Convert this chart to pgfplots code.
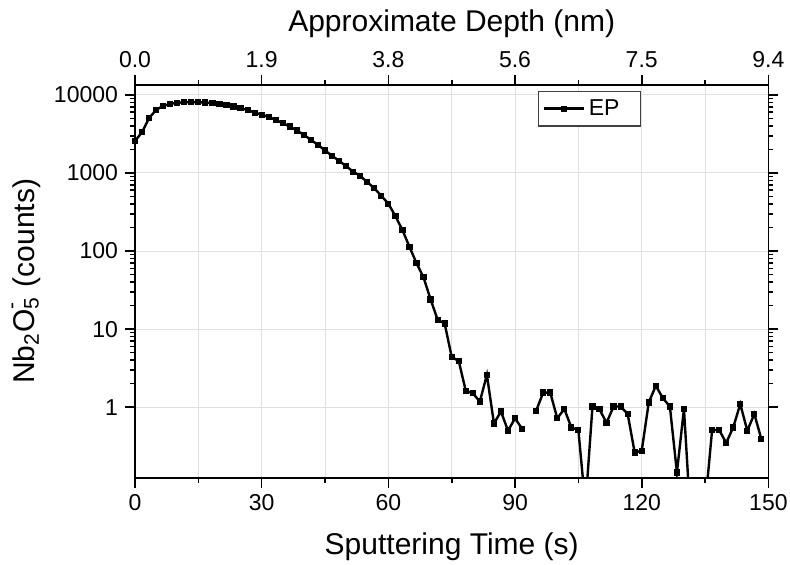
\documentclass[border=0pt]{standalone}
\usepackage{pgfplots}
\pgfplotsset{compat=1.18}
\usepackage{fontspec}
\setmainfont{Liberation Sans}
\pgfplotstableread{
t y
0 2570
1.667 3330
3.333 5030
5 6430
6.667 7230
8.333 7670
10 7900
11.667 8060
13.333 8060
15 8060
16.667 7980
18.333 7800
20 7670
21.667 7380
23.333 7090
25 6760
26.667 6430
28.333 5930
30 5590
31.667 5220
33.333 4790
35 4340
36.667 3930
38.333 3490
40 3080
41.667 2650
43.333 2290
45 1940
46.667 1660
48.333 1430
50 1220
51.667 1040
53.333 918
55 762
56.667 639
58.333 509
60 405
61.667 280
63.333 186
65 113
66.667 70
68.333 46
70 24
71.667 13.2
73.333 11.8
75 4.4
76.667 3.9
78.333 1.62
80 1.51
81.667 1.18
83.333 2.6
85 0.62
86.667 0.88
88.333 0.50
90 0.72
91.667 0.53
93.333 nan
95 0.90
96.667 1.54
98.333 1.54
100 0.72
101.667 0.95
103.333 0.55
105 0.51
106.667 0.054
108.333 1.02
110 0.94
111.667 0.63
113.333 1.02
115 1.02
116.667 0.82
118.333 0.263
120 0.277
121.667 1.15
123.333 1.88
125 1.31
126.667 1.02
128.333 0.146
130 0.95
131.667 0.03
133.333 0.02
135 0.054
136.667 0.51
138.333 0.51
140 0.35
141.667 0.55
143.333 1.1
145 0.50
146.667 0.82
148.333 0.39
}\datatable
\begin{document}
\begin{tikzpicture}
\path[use as bounding box] (-67.5pt,-43.15pt) rectangle (327.5pt,238.85pt);
\begin{axis}[
 scale only axis, width=316.7pt, height=196.5pt,
 xmin=0, xmax=150, ymode=log, ymin=0.125, ymax=13500,
 xtick={0,30,...,150}, xticklabels={0,30,60,90,120,150},
 minor x tick num=1,
 ytick={1,10,100,1000,10000}, yticklabels={1,10,100,1000,10000},
 xtick pos=bottom, ytick pos=both,
 tick align=outside,
 major tick length=5pt, minor tick length=2.5pt,
 xmajorgrids, xminorgrids, ymajorgrids,
 major grid style={black!12, line width=0.5pt},
 minor grid style={black!12, line width=0.5pt},
 axis line style={line width=0.9pt},
 tick style={black, line width=0.8pt},
 tick label style={font=\fontsize{11.5}{13}\selectfont},
 label style={font=\fontsize{15}{17}\selectfont},
 xlabel style={yshift=-4pt},
 xlabel={Sputtering Time (s)},
 ylabel={Nb\textsubscript{2}O\rlap{\textsubscript{5}}\textsuperscript{\raisebox{0.5ex}{-}}\hspace{0.2em} (counts)},
 unbounded coords=jump,
 legend style={at={(0.636,0.985)}, anchor=north west, draw=black!75, line width=0.6pt, font=\fontsize{11.5}{13}\selectfont, inner sep=2pt},
 legend image post style={mark size=0.9pt},
 legend cell align=left,
 legend image code/.code={\draw[#1] (0pt,0pt) -- (20pt,0pt); \draw[#1, mark repeat=2, mark phase=2] plot coordinates {(0pt,0pt) (10pt,0pt) (20pt,0pt)};},
 ]
\addplot[black, line width=1.2pt, mark=square*, mark size=0.95pt, mark options={solid}] table[x=t,y=y] {\datatable};
\legend{\makebox[22pt][l]{EP}}
\end{axis}
\begin{axis}[
 scale only axis, width=316.7pt, height=196.5pt,
 xmin=0, xmax=150, ymin=0, ymax=1,
 axis x line*=top, hide y axis,
 axis line style={line width=0.9pt, -},
 xtick={0,30,...,150}, xticklabels={0.0,1.9,3.8,5.6,7.5,9.4},
 minor x tick num=1,
 tick align=outside,
 major tick length=5pt, minor tick length=2.5pt,
 tick style={black, line width=0.8pt},
 tick label style={font=\fontsize{11.5}{13}\selectfont},
 label style={font=\fontsize{15}{17}\selectfont},
 xlabel={Approximate Depth (nm)},
 ]
\addplot[draw=none] coordinates {(0,0)};
\end{axis}
\end{tikzpicture}
\end{document}
